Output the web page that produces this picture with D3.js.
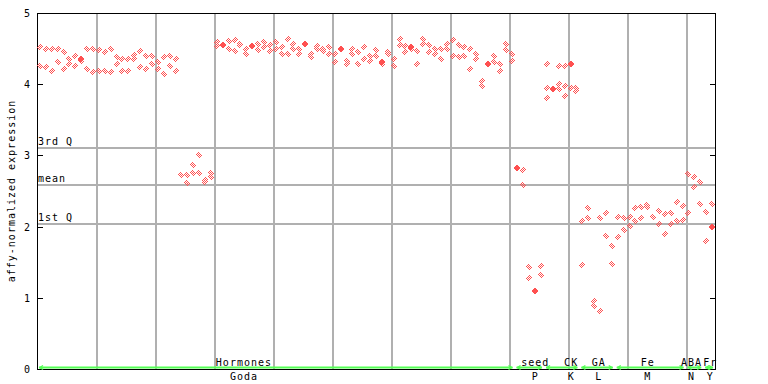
<!DOCTYPE html>
<html>
<meta charset="utf-8">
<script src="https://d3js.org/d3.v7.min.js"></script>
<head>
<style>
body { margin: 0; background: #fff; }
text { font-family: "DejaVu Sans Mono", monospace; font-size: 10px; letter-spacing: 1px; fill: #000; }
</style>
</head>
<body>
<div id="chart"></div>
<script>

// expression values, one inner array per sample (replicates)
var godaValues = [
  [4.52,4.26],[4.49,4.24],[4.49,4.19],[4.50,4.31],[4.45,4.21],[4.36,4.28],[4.39,4.25],[4.35,4.35,4.32],
  [4.50,4.21],[4.49,4.17],[4.48,4.19],[4.45,4.19],[4.50,4.17],[4.38,4.28],[4.36,4.19],[4.36,4.18],
  [4.41,4.35],[4.46,4.24],[4.40,4.22],[4.39,4.29],[4.31,4.21],[4.38,4.15],[4.39,4.25],[4.36,4.18],
  [2.72],[2.72,2.61],[2.86,2.75],[3.00,2.75],[2.66,2.63],[2.75,2.69],
  [4.59,4.53],[4.55,4.55],[4.60,4.50],[4.62,4.46],[4.57,4.55],[4.49,4.43],[4.53,4.53],[4.57,4.48],
  [4.59,4.52],[4.55,4.46],[4.59,4.50],[4.52,4.42],[4.63,4.42],[4.56,4.49],[4.50,4.43],[4.57,4.56],
  [4.43,4.38],[4.53,4.50],[4.49,4.46],[4.52,4.43],[4.43,4.31],[4.50,4.50],[4.32,4.28],[4.49,4.43],
  [4.45,4.28],[4.52,4.36],[4.40,4.33],[4.48,4.40],[4.31,4.31,4.28],[4.45,4.42],[4.35,4.25],[4.63,4.55],
  [4.53,4.45],[4.52,4.52,4.49],[4.46,4.29],[4.64,4.56],[4.55,4.45],[4.50,4.42],[4.49,4.36],[4.56,4.49],
  [4.62,4.40],[4.55,4.38],[4.52,4.39],[4.49,4.22],[4.42,4.36],[4.04,3.97],[4.29,4.29],[4.39,4.31],
  [4.29,4.19],[4.56,4.48],[4.43,4.32]
];
var seedValues = [[2.82,2.82],[2.79,2.59],[1.43,1.28],[1.10,1.09],[1.45,1.32]];
var ckValues = [[4.28,3.94,3.81],[3.93,3.93],[4.25,4.00,3.93],[4.25,3.97,3.84],[4.28,4.28,3.94],[3.95,3.90]];
var gaValues = [[2.08,1.46],[2.26,2.12],[0.95,0.88],[2.12,0.81],[2.19,1.87],[1.73,1.48]];
var feValues = [[2.14,1.86],[2.12,1.95],[2.14,2.01],[2.26,2.08],[2.28,2.12],[2.31,2.28],[2.14],
  [2.22,2.04],[2.18,1.90],[2.19,2.04],[2.35,2.08],[2.29,2.09]];
var abaValues = [[2.74,2.19],[2.69,2.55],[2.63,2.32]];
var frValues = [[2.21,1.80],[2.32,2.00,2.00]];

var groupTop = ["Hormones","seed","CK","GA","Fe","ABA","Fr"];
var groupBottom = ["Goda","P","K","L","M","N","Y"];
var groupLabelAt = [35.1, 84.5, 90.6, 95.3, 103.6, 111.0, 114.2];  // in sample units

var quartiles = [3.10, 2.59, 2.04];
var quartileNames = ["3rd Q", "mean", "1st Q"];
var yTicks = [0, 1, 2, 3, 4, 5];

var groups = [godaValues, seedValues, ckValues, gaValues, feValues, abaValues, frValues];
var samples = [].concat.apply([], groups);
var n = samples.length;

var width = 768, height = 384;
var pLeft = 37, pRight = 715, pTop = 13, pBottom = 369;

var svg = d3.select("#chart").append("svg")
  .attr("width", width).attr("height", height);

var defs = svg.append("defs");
var pat = defs.append("pattern").attr("id", "chk")
  .attr("width", 2).attr("height", 2).attr("patternUnits", "userSpaceOnUse");
pat.append("rect").attr("x", 0).attr("y", 0).attr("width", 1).attr("height", 1).attr("fill", "#ff5050");
pat.append("rect").attr("x", 1).attr("y", 1).attr("width", 1).attr("height", 1).attr("fill", "#ff5050");

var x = d3.scaleBand().domain(d3.range(n)).range([pLeft, pRight]);
var y = d3.scaleLinear().domain([0, 5]).range([pBottom, pTop]);
var step = x.step();

// vertical grid every 10 samples
svg.selectAll("vgrid").data(d3.range(10, n, 10)).enter().append("line")
  .attr("x1", function(d) { return Math.round(pLeft + d * step) + 1; })
  .attr("x2", function(d) { return Math.round(pLeft + d * step) + 1; })
  .attr("y1", pTop).attr("y2", pBottom)
  .attr("stroke", "#b0b0b0").attr("stroke-width", 2);

// quartile lines
svg.selectAll("qline").data(quartiles).enter().append("line")
  .attr("x1", pLeft).attr("x2", pRight)
  .attr("y1", function(d) { return Math.round(y(d)); })
  .attr("y2", function(d) { return Math.round(y(d)); })
  .attr("stroke", "#b0b0b0").attr("stroke-width", 2);

svg.selectAll("qlabel").data(quartiles).enter().append("text")
  .attr("x", pLeft + 1)
  .attr("y", function(d) { return Math.round(y(d)) - 3; })
  .text(function(d, i) { return quartileNames[i]; });

// frame
svg.append("line").attr("x1", pLeft).attr("x2", pRight).attr("y1", pTop + 0.5).attr("y2", pTop + 0.5).attr("stroke", "#000");
svg.append("line").attr("x1", pLeft + 0.5).attr("x2", pLeft + 0.5).attr("y1", pTop).attr("y2", pBottom + 1).attr("stroke", "#000");
svg.append("line").attr("x1", pRight + 0.5).attr("x2", pRight + 0.5).attr("y1", pTop).attr("y2", pBottom + 1).attr("stroke", "#000");
svg.append("line").attr("x1", pLeft).attr("x2", pRight + 1).attr("y1", pBottom + 0.5).attr("y2", pBottom + 0.5).attr("stroke", "#000");

// ticks, pointing inward
svg.selectAll("ltick").data(yTicks).enter().append("line")
  .attr("x1", pLeft).attr("x2", pLeft + 6)
  .attr("y1", function(d) { return Math.round(y(d)) + 0.5; })
  .attr("y2", function(d) { return Math.round(y(d)) + 0.5; })
  .attr("stroke", "#000");
svg.selectAll("rtick").data(yTicks).enter().append("line")
  .attr("x1", pRight - 5).attr("x2", pRight)
  .attr("y1", function(d) { return Math.round(y(d)) + 0.5; })
  .attr("y2", function(d) { return Math.round(y(d)) + 0.5; })
  .attr("stroke", "#000");
svg.selectAll("tlabel").data(yTicks).enter().append("text")
  .attr("x", 31).attr("y", function(d) { return y(d) + 4; })
  .attr("text-anchor", "end")
  .text(function(d) { return d; });

svg.append("text")
  .attr("transform", "translate(15,191) rotate(-90)")
  .attr("text-anchor", "middle")
  .text("affy-normalized expression");

// points
var pts = [];
samples.forEach(function(vals, i) {
  vals.forEach(function(v, j) {
    var dup = vals.some(function(w, k) { return k !== j && Math.abs(w - v) < 0.015; });
    pts.push({ i: i, v: v, dup: dup });
  });
});
svg.selectAll("pt").data(pts).enter().append("path")
  .attr("d", function(d) {
    var cx = Math.round(x(d.i) + step / 2), cy = Math.round(y(d.v));
    return "M" + cx + "," + (cy - 3.5) + "L" + (cx + 3.5) + "," + cy + "L" + cx + "," + (cy + 3.5) + "L" + (cx - 3.5) + "," + cy + "Z";
  })
  .attr("fill", function(d) { return d.dup ? "#ff5050" : "url(#chk)"; })
  .attr("shape-rendering", "crispEdges");

// group bars along the bottom
var starts = [], s = 0;
groups.forEach(function(g) { starts.push(s); s += g.length; });
var gy = pBottom - 1.5;
starts.forEach(function(st, k) {
  var x0 = pLeft + st * step + 2, x1 = pLeft + (st + groups[k].length) * step - 2;
  svg.append("line").attr("x1", x0).attr("x2", x1).attr("y1", gy).attr("y2", gy)
    .attr("stroke", "#55ff55").attr("stroke-width", 2);
  svg.append("path").attr("d", "M" + (x0 + 4) + "," + (gy - 2) + "L" + (x0 + 1) + "," + gy + "L" + (x0 + 4) + "," + (gy + 2))
    .attr("fill", "none").attr("stroke", "#55ff55").attr("stroke-width", 1.5);
  svg.append("path").attr("d", "M" + (x1 - 4) + "," + (gy - 2) + "L" + (x1 - 1) + "," + gy + "L" + (x1 - 4) + "," + (gy + 2))
    .attr("fill", "none").attr("stroke", "#55ff55").attr("stroke-width", 1.5);
});

svg.selectAll("gtop").data(groupTop).enter().append("text")
  .attr("x", function(d, i) { return pLeft + groupLabelAt[i] * step; })
  .attr("y", 366).attr("text-anchor", "middle")
  .text(function(d) { return d; });
svg.selectAll("gbot").data(groupBottom).enter().append("text")
  .attr("x", function(d, i) { return pLeft + groupLabelAt[i] * step; })
  .attr("y", 380).attr("text-anchor", "middle")
  .text(function(d) { return d; });

</script>
</body>
</html>
